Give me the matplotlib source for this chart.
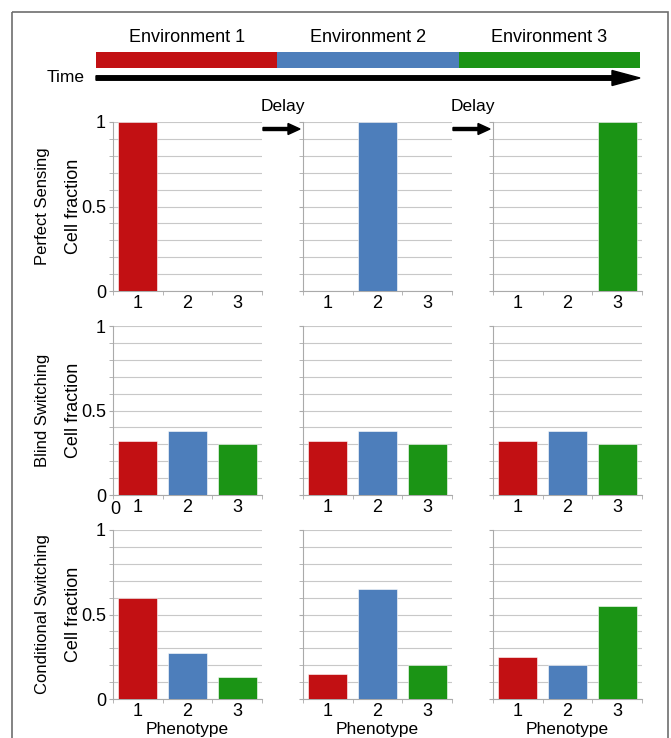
import matplotlib.pyplot as plt
from matplotlib.patches import Rectangle, FancyArrow

plt.rcParams['font.family'] = ['Liberation Sans', 'DejaVu Sans']

environments = ["Environment 1", "Environment 2", "Environment 3"]
env_colors = ["#C21013", "#4D7EBB", "#1B9415"]
strategies = ["Perfect Sensing", "Blind Switching", "Conditional Switching"]
phenotypes = [1, 2, 3]

# cell fraction per phenotype, one row per strategy, one list per environment
perfect = [[1.0, 0.0, 0.0], [0.0, 1.0, 0.0], [0.0, 0.0, 1.0]]
blind = [[0.32, 0.38, 0.30], [0.32, 0.38, 0.30], [0.32, 0.38, 0.30]]
conditional = [[0.60, 0.27, 0.13], [0.15, 0.65, 0.20], [0.25, 0.20, 0.55]]
fractions = [perfect, blind, conditional]

W, H = 671, 738
fig = plt.figure(figsize=(W / 100, H / 100), dpi=100)

# overlay in pixel units for the banner, arrows and frame
ov = fig.add_axes([0, 0, 1, 1])
ov.set_xlim(0, W)
ov.set_ylim(H, 0)
ov.axis('off')
ov.add_patch(Rectangle((12, 12), 656, 760, fill=False, ec='#6e6e6e', lw=1.2))

bar_left, bar_right = 96, 640
seg = (bar_right - bar_left) / len(environments)
for i, (name, c) in enumerate(zip(environments, env_colors)):
    x0 = bar_left + i * seg
    ov.add_patch(Rectangle((x0, 52), seg, 16, color=c, lw=0))
    ov.text(x0 + seg / 2, 38, name, ha='center', va='center', fontsize=13)

ov.text(66, 78, "Time", ha='center', va='center', fontsize=12.5)
ov.add_patch(FancyArrow(bar_left, 78, bar_right - bar_left, 0, width=4.5,
                        head_width=15, head_length=28,
                        length_includes_head=True, color='black'))

col_x = [113, 303, 493]
row_y = [122, 326, 530]
aw, ah = 149, 169

for j in range(1, 3):
    xa = col_x[j - 1] + aw + 1
    xb = col_x[j] - 3
    ov.text((xa + xb) / 2 + 1, 106, "Delay", ha='center', va='center', fontsize=12.5)
    ov.add_patch(FancyArrow(xa, 129, xb - xa, 0, width=3, head_width=11,
                            head_length=12, length_includes_head=True,
                            color='black'))

for r, strat in enumerate(strategies):
    for c in range(3):
        ax = fig.add_axes([col_x[c] / W, 1 - (row_y[r] + ah) / H, aw / W, ah / H])
        ax.bar(phenotypes, fractions[r][c], width=0.78, color=env_colors,
               edgecolor='white', linewidth=0.4, zorder=3)
        ax.set_xlim(0.5, 3.5)
        ax.set_ylim(0, 1)
        ax.set_yticks([0, 0.5, 1])
        ax.set_yticks([i / 10 for i in range(11)], minor=True)
        ax.grid(True, axis='y', which='both', color='#c8c8c8', lw=0.8, zorder=0)
        ax.set_xticks(phenotypes)
        ax.set_xticks([0.5, 1.5, 2.5, 3.5], minor=True)
        ax.tick_params(axis='x', which='major', length=0, labelsize=13, pad=3)
        ax.tick_params(axis='x', which='minor', length=3, color='#aaaaaa')
        ax.tick_params(axis='y', which='both', length=3, color='#aaaaaa',
                       labelsize=13, pad=2)
        for s in ['top', 'right']:
            ax.spines[s].set_visible(False)
        for s in ['left', 'bottom']:
            ax.spines[s].set_color('#aaaaaa')
            ax.spines[s].set_linewidth(0.8)
        if c == 0:
            ax.set_yticklabels(["0", "0.5", "1"])
        else:
            ax.set_yticklabels([])
        if r == 2:
            ax.set_xlabel("Phenotype", fontsize=12.5, labelpad=1)
    yc = row_y[r] + ah / 2
    ov.text(43, yc, strat, rotation=90, ha='center', va='center', fontsize=12)
    ov.text(74, yc, "Cell fraction", rotation=90, ha='center', va='center',
            fontsize=13)

# stray zero under the blind switching panel, as in the source figure
ov.text(115, 510, "0", ha='center', va='center', fontsize=13)

fig.savefig("out.png", dpi=100)
